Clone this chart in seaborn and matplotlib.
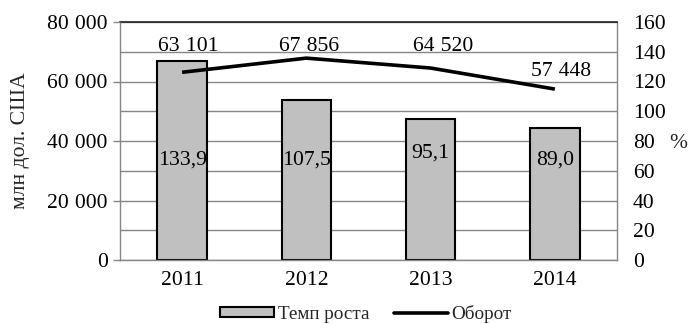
import numpy as np
import pandas as pd
import matplotlib
matplotlib.use("Agg")
import matplotlib.pyplot as plt
import seaborn as sns
from matplotlib.patches import Patch
from matplotlib.lines import Line2D

# Data
years = ["2011", "2012", "2013", "2014"]
growth_rate = [133.9, 107.5, 95.1, 89.0]          # Темп роста, %
turnover = [63101, 67856, 64520, 57448]            # Оборот, млн дол. США
left_ticks = [0, 20000, 40000, 60000, 80000]
right_ticks = [0, 20, 40, 60, 80, 100, 120, 140, 160]

# Label placement (axis units)
rate_label_y = [67, 67, 72, 67]
turnover_label_y = [71800, 71800, 71800, 63200]
turnover_label_dx = [0.05, 0.02, 0.10, 0.05]

sns.set_theme(style="white")
plt.rcParams["font.family"] = ["Liberation Serif", "DejaVu Serif"]
FS = 15.6
LEG_FS = 13.8
GRID = "#868686"


def spaced(n):
    return f"{n:,}".replace(",", "\u2009\u200a")


fig = plt.figure(figsize=(6.89, 3.24), dpi=100)
ax = fig.add_axes([120 / 689, 1 - 260 / 324, 497 / 689, 238 / 324])
ax2 = ax.twinx()

df = pd.DataFrame({"year": years, "rate": growth_rate, "turnover": turnover})

# Bars: growth rate on the % scale (right)
sns.barplot(data=df, x="year", y="rate", ax=ax, color="#c0c0c0",
            saturation=1, width=0.40, edgecolor="black", linewidth=1.5)
ax.set_ylim(0, 160)
ax.set_xlim(-0.5, len(years) - 0.5)
ax.set_yticks(right_ticks)
ax.set_xlabel("")
ax.set_ylabel("")
ax.set_axisbelow(True)
ax.grid(axis="y", color=GRID, linewidth=1.0)
ax.grid(axis="x", visible=False)
for s in ["left", "right", "bottom"]:
    ax.spines[s].set_color(GRID)
    ax.spines[s].set_linewidth(1.0)
ax.spines["top"].set_color("#222222")
ax.spines["top"].set_linewidth(1.2)

for i, v in enumerate(growth_rate):
    ax.text(i, rate_label_y[i], f"{v:.1f}".replace(".", ","),
            ha="center", va="center", fontsize=FS, color="black")

# Line: turnover on the money scale (left)
sns.lineplot(x=np.arange(len(years)), y=turnover, ax=ax2, color="black",
             linewidth=2.6, solid_capstyle="butt")
ax2.set_ylim(0, 80000)
ax2.set_yticks(left_ticks)
ax2.set_yticklabels([spaced(t) for t in left_ticks])
for s in ax2.spines.values():
    s.set_visible(False)
ax2.grid(False)

for i, v in enumerate(turnover):
    ax2.text(i + turnover_label_dx[i], turnover_label_y[i], spaced(v),
             ha="center", va="center", fontsize=FS, color="black")

# Axis sides: % ticks on the right, money ticks on the left
ax.yaxis.tick_right()
ax.yaxis.set_label_position("right")
ax.tick_params(axis="y", which="both", left=False, right=False, labelleft=False,
               labelright=True, length=0, labelsize=FS, pad=11.5, labelcolor="black")
ax.tick_params(axis="x", length=0, labelsize=FS, pad=8, labelcolor="black")
for lbl in ax.get_yticklabels():
    lbl.set_horizontalalignment("left")

ax2.yaxis.tick_left()
ax2.yaxis.set_label_position("left")
ax2.tick_params(axis="y", which="both", left=True, right=False, labelleft=True,
                labelright=False, length=5, width=1.0, color=GRID,
                labelsize=FS, pad=4, labelcolor="black")
ax2.set_ylabel("млн дол. США", fontsize=FS)
ax2.yaxis.set_label_coords(-90 / 497, 0.5)

fig.text(678 / 689, 1 - 143 / 324, "%", ha="center", va="center", fontsize=FS)

handles = [
    Patch(facecolor="#c0c0c0", edgecolor="black", linewidth=1.5, label="Темп роста"),
    Line2D([0], [0], color="black", linewidth=2.6, label="Оборот"),
]
fig.legend(handles=handles, loc="center", bbox_to_anchor=(366 / 689, 1 - 314 / 324),
           ncol=2, frameon=False, fontsize=LEG_FS, handlelength=2.8, handleheight=0.4,
           handletextpad=0.2, columnspacing=1.3, borderpad=0)

fig.savefig("out.png", dpi=100)
